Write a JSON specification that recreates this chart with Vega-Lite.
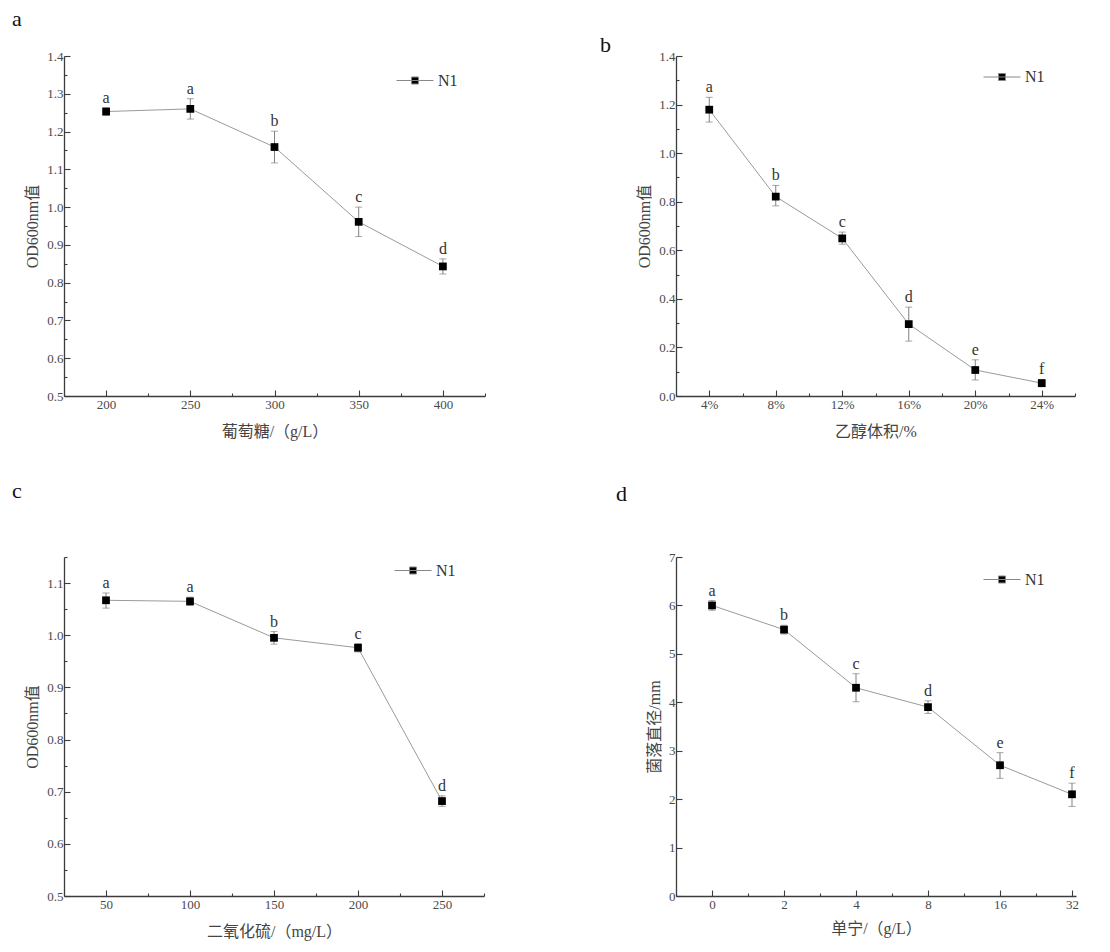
{
  "$schema": "https://vega.github.io/schema/vega-lite/v6.json",
  "padding": {"left": 12, "top": 8, "right": 0, "bottom": 6},
  "background": "white",
  "datasets": {
    "a": [
      {"glucose": 200, "mean": 1.253, "lo": 1.243, "hi": 1.263, "letter": "a", "series": "N1"},
      {"glucose": 250, "mean": 1.260, "lo": 1.233, "hi": 1.287, "letter": "a", "series": "N1"},
      {"glucose": 300, "mean": 1.159, "lo": 1.117, "hi": 1.201, "letter": "b", "series": "N1"},
      {"glucose": 350, "mean": 0.961, "lo": 0.922, "hi": 1.000, "letter": "c", "series": "N1"},
      {"glucose": 400, "mean": 0.843, "lo": 0.823, "hi": 0.863, "letter": "d", "series": "N1"}
    ],
    "b": [
      {"ethanol": 4, "mean": 1.179, "lo": 1.128, "hi": 1.230, "letter": "a", "series": "N1"},
      {"ethanol": 8, "mean": 0.821, "lo": 0.783, "hi": 0.867, "letter": "b", "series": "N1"},
      {"ethanol": 12, "mean": 0.649, "lo": 0.625, "hi": 0.675, "letter": "c", "series": "N1"},
      {"ethanol": 16, "mean": 0.296, "lo": 0.226, "hi": 0.366, "letter": "d", "series": "N1"},
      {"ethanol": 20, "mean": 0.107, "lo": 0.066, "hi": 0.149, "letter": "e", "series": "N1"},
      {"ethanol": 24, "mean": 0.053, "lo": 0.038, "hi": 0.068, "letter": "f", "series": "N1"}
    ],
    "c": [
      {"so2": 50, "mean": 1.067, "lo": 1.052, "hi": 1.081, "letter": "a", "series": "N1"},
      {"so2": 100, "mean": 1.065, "lo": 1.057, "hi": 1.073, "letter": "a", "series": "N1"},
      {"so2": 150, "mean": 0.995, "lo": 0.983, "hi": 1.007, "letter": "b", "series": "N1"},
      {"so2": 200, "mean": 0.976, "lo": 0.968, "hi": 0.984, "letter": "c", "series": "N1"},
      {"so2": 250, "mean": 0.682, "lo": 0.672, "hi": 0.692, "letter": "d", "series": "N1"}
    ],
    "d": [
      {"tannin": "0", "mean": 6.0, "lo": 5.9, "hi": 6.1, "letter": "a", "series": "N1"},
      {"tannin": "2", "mean": 5.5, "lo": 5.41, "hi": 5.59, "letter": "b", "series": "N1"},
      {"tannin": "4", "mean": 4.3, "lo": 4.01, "hi": 4.59, "letter": "c", "series": "N1"},
      {"tannin": "8", "mean": 3.9, "lo": 3.77, "hi": 4.03, "letter": "d", "series": "N1"},
      {"tannin": "16", "mean": 2.7, "lo": 2.43, "hi": 2.96, "letter": "e", "series": "N1"},
      {"tannin": "32", "mean": 2.1, "lo": 1.85, "hi": 2.33, "letter": "f", "series": "N1"}
    ]
  },
  "columns": 2,
  "bounds": "flush",
  "spacing": {"row": 161, "column": 191},
  "resolve": {"scale": {"color": "independent"}},
  "concat": [
    {
      "title": {"text": "a", "dx": -52, "offset": 19},
      "width": 421, "height": 340,
      "data": {"name": "a"},
      "resolve": {"axis": {"y": "independent"}},
      "encoding": {
        "x": {"field": "glucose", "type": "quantitative",
          "scale": {"domain": [175, 425], "nice": false, "zero": false},
          "axis": {"title": "葡萄糖/（g/L）", "values": [175,200,225,250,275,300,325,350,375,400,425],
            "labelExpr": "datum.value % 50 === 0 ? datum.label : ''",
            "tickSize": {"condition": {"test": "datum.value % 50 === 0", "value": -6}, "value": -3},
            "labelPadding": 8, "titlePadding": 9}}
      },
      "layer": [
        {"mark": {"type": "line", "color": "#9a9a9a", "strokeWidth": 1},
         "encoding": {"y": {"field": "mean", "type": "quantitative",
           "scale": {"domain": [0.5, 1.4], "nice": false, "zero": false},
           "axis": {"title": "OD600nm值", "values": [0.5,0.55,0.6,0.65,0.7,0.75,0.8,0.85,0.9,0.95,1.0,1.05,1.1,1.15,1.2,1.25,1.3,1.35,1.4],
             "format": ".1f",
             "labelExpr": "abs(datum.value*10 - round(datum.value*10)) < 0.001 ? datum.label : ''",
             "tickSize": {"condition": {"test": "abs(datum.value*10 - round(datum.value*10)) < 0.001", "value": -6}, "value": -3},
             "labelPadding": 7, "titlePadding": 6}}}},
        {"mark": {"type": "errorbar", "color": "#808080", "ticks": {"size": 7, "color": "#808080"}},
         "encoding": {"y": {"field": "lo", "type": "quantitative", "axis": null}, "y2": {"field": "hi"}}},
        {"mark": {"type": "point", "shape": "square", "filled": true, "size": 60, "opacity": 1},
         "encoding": {"y": {"field": "mean", "type": "quantitative", "axis": null},
           "color": {"field": "series", "type": "nominal", "scale": {"range": ["#000000"]},
             "legend": {"title": null, "orient": "none", "legendX": 332, "legendY": 5.5,
               "symbolType": "M-1,0H1M-0.19,-0.19H0.19V0.19H-0.19Z", "symbolSize": 1369,
               "symbolStrokeColor": "#888888", "symbolStrokeWidth": 1, "symbolFillColor": "#000000",
               "labelFontSize": 16, "labelOffset": 4, "labelColor": "#333"}}}},
        {"mark": {"type": "text", "dy": -5, "baseline": "alphabetic", "fontSize": 16, "color": "#333"},
         "encoding": {"y": {"field": "hi", "type": "quantitative", "axis": null}, "text": {"field": "letter"}}}
      ]
    },
    {
      "title": {"text": "b", "dx": -76, "offset": -7},
      "width": 399, "height": 340,
      "data": {"name": "b"},
      "resolve": {"axis": {"y": "independent"}},
      "encoding": {
        "x": {"field": "ethanol", "type": "quantitative",
          "scale": {"domain": [2, 26], "nice": false, "zero": false},
          "axis": {"title": "乙醇体积/%", "values": [2,4,6,8,10,12,14,16,18,20,22,24,26],
            "labelExpr": "datum.value % 4 === 0 ? datum.value + '%' : ''",
            "tickSize": {"condition": {"test": "datum.value % 4 === 0", "value": -6}, "value": -3},
            "labelPadding": 8, "titlePadding": 9}}
      },
      "layer": [
        {"mark": {"type": "line", "color": "#9a9a9a", "strokeWidth": 1},
         "encoding": {"y": {"field": "mean", "type": "quantitative",
           "scale": {"domain": [0, 1.4], "nice": false, "zero": false},
           "axis": {"title": "OD600nm值", "values": [0,0.1,0.2,0.3,0.4,0.5,0.6,0.7,0.8,0.9,1.0,1.1,1.2,1.3,1.4],
             "format": ".1f",
             "labelExpr": "abs(datum.value*5 - round(datum.value*5)) < 0.001 ? datum.label : ''",
             "tickSize": {"condition": {"test": "abs(datum.value*5 - round(datum.value*5)) < 0.001", "value": -6}, "value": -3},
             "labelPadding": 7, "titlePadding": 6}}}},
        {"mark": {"type": "errorbar", "color": "#808080", "ticks": {"size": 7, "color": "#808080"}},
         "encoding": {"y": {"field": "lo", "type": "quantitative", "axis": null}, "y2": {"field": "hi"}}},
        {"mark": {"type": "point", "shape": "square", "filled": true, "size": 60, "opacity": 1},
         "encoding": {"y": {"field": "mean", "type": "quantitative", "axis": null},
           "color": {"field": "series", "type": "nominal", "scale": {"range": ["#000000"]},
             "legend": {"title": null, "orient": "none", "legendX": 307, "legendY": 2,
               "symbolType": "M-1,0H1M-0.19,-0.19H0.19V0.19H-0.19Z", "symbolSize": 1369,
               "symbolStrokeColor": "#888888", "symbolStrokeWidth": 1, "symbolFillColor": "#000000",
               "labelFontSize": 16, "labelOffset": 4, "labelColor": "#333"}}}},
        {"mark": {"type": "text", "dy": -5, "baseline": "alphabetic", "fontSize": 16, "color": "#333"},
         "encoding": {"y": {"field": "hi", "type": "quantitative", "axis": null}, "text": {"field": "letter"}}}
      ]
    },
    {
      "title": {"text": "c", "dx": -52, "offset": 48},
      "width": 420, "height": 339,
      "data": {"name": "c"},
      "resolve": {"axis": {"y": "independent"}},
      "encoding": {
        "x": {"field": "so2", "type": "quantitative",
          "scale": {"domain": [25, 275], "nice": false, "zero": false},
          "axis": {"title": "二氧化硫/（mg/L）", "values": [25,50,75,100,125,150,175,200,225,250,275],
            "labelExpr": "datum.value % 50 === 0 ? datum.label : ''",
            "tickSize": {"condition": {"test": "datum.value % 50 === 0", "value": -6}, "value": -3},
            "labelPadding": 8, "titlePadding": 9}}
      },
      "layer": [
        {"mark": {"type": "line", "color": "#9a9a9a", "strokeWidth": 1},
         "encoding": {"y": {"field": "mean", "type": "quantitative",
           "scale": {"domain": [0.5, 1.15], "nice": false, "zero": false},
           "axis": {"title": "OD600nm值", "values": [0.5,0.55,0.6,0.65,0.7,0.75,0.8,0.85,0.9,0.95,1.0,1.05,1.1,1.15],
             "format": ".1f",
             "labelExpr": "abs(datum.value*10 - round(datum.value*10)) < 0.001 ? datum.label : ''",
             "tickSize": {"condition": {"test": "abs(datum.value*10 - round(datum.value*10)) < 0.001", "value": -6}, "value": -3},
             "labelPadding": 7, "titlePadding": 6}}}},
        {"mark": {"type": "errorbar", "color": "#808080", "ticks": {"size": 7, "color": "#808080"}},
         "encoding": {"y": {"field": "lo", "type": "quantitative", "axis": null}, "y2": {"field": "hi"}}},
        {"mark": {"type": "point", "shape": "square", "filled": true, "size": 60, "opacity": 1},
         "encoding": {"y": {"field": "mean", "type": "quantitative", "axis": null},
           "color": {"field": "series", "type": "nominal", "scale": {"range": ["#000000"]},
             "legend": {"title": null, "orient": "none", "legendX": 330, "legendY": -5.5,
               "symbolType": "M-1,0H1M-0.19,-0.19H0.19V0.19H-0.19Z", "symbolSize": 1369,
               "symbolStrokeColor": "#888888", "symbolStrokeWidth": 1, "symbolFillColor": "#000000",
               "labelFontSize": 16, "labelOffset": 4, "labelColor": "#333"}}}},
        {"mark": {"type": "text", "dy": -5, "baseline": "alphabetic", "fontSize": 16, "color": "#333"},
         "encoding": {"y": {"field": "hi", "type": "quantitative", "axis": null}, "text": {"field": "letter"}}}
      ]
    },
    {
      "title": {"text": "d", "dx": -60, "offset": 45},
      "width": 400, "height": 339,
      "data": {"name": "d"},
      "resolve": {"axis": {"x": "independent", "y": "independent"}},
      "layer": [
        {"mark": {"type": "line", "color": "#9a9a9a", "strokeWidth": 1},
         "encoding": {
           "x": {"field": "tannin", "type": "ordinal", "sort": ["0","2","4","8","16","32"],
             "scale": {"type": "point", "padding": 0.278, "align": 0.9},
             "axis": {"title": "单宁/（g/L）", "labelAngle": 0, "tickSize": -6, "labelPadding": 8, "titlePadding": 9}},
           "y": {"field": "mean", "type": "quantitative",
           "scale": {"domain": [0, 7], "nice": false, "zero": false},
           "axis": {"title": "菌落直径/mm", "values": [0,0.5,1,1.5,2,2.5,3,3.5,4,4.5,5,5.5,6,6.5,7],
             "format": "d",
             "labelExpr": "datum.value % 1 === 0 ? datum.label : ''",
             "tickSize": {"condition": {"test": "datum.value % 1 === 0", "value": -6}, "value": -3},
             "labelPadding": 7, "titlePadding": 6}}}},
        {"mark": {"type": "errorbar", "color": "#808080", "ticks": {"size": 7, "color": "#808080"}},
         "encoding": {
           "x": {"field": "tannin", "type": "ordinal", "sort": ["0","2","4","8","16","32"], "axis": null},
           "y": {"field": "lo", "type": "quantitative", "axis": null}, "y2": {"field": "hi"}}},
        {"mark": {"type": "point", "shape": "square", "filled": true, "size": 60, "opacity": 1},
         "encoding": {
           "x": {"field": "tannin", "type": "ordinal", "sort": ["0","2","4","8","16","32"], "axis": null},
           "y": {"field": "mean", "type": "quantitative", "axis": null},
           "color": {"field": "series", "type": "nominal", "scale": {"range": ["#000000"]},
             "legend": {"title": null, "orient": "none", "legendX": 307, "legendY": 3.5,
               "symbolType": "M-1,0H1M-0.19,-0.19H0.19V0.19H-0.19Z", "symbolSize": 1369,
               "symbolStrokeColor": "#888888", "symbolStrokeWidth": 1, "symbolFillColor": "#000000",
               "labelFontSize": 16, "labelOffset": 4, "labelColor": "#333"}}}},
        {"mark": {"type": "text", "dy": -5, "baseline": "alphabetic", "fontSize": 16, "color": "#333"},
         "encoding": {
           "x": {"field": "tannin", "type": "ordinal", "sort": ["0","2","4","8","16","32"],
             "axis": {"orient": "bottom", "title": null, "labels": false, "domain": false, "tickSize": -3, "tickOffset": -36}},
           "y": {"field": "hi", "type": "quantitative", "axis": null}, "text": {"field": "letter"}}}
      ]
    }
  ],
  "config": {
    "font": "'Liberation Serif', 'Noto Sans CJK SC'",
    "view": {"stroke": null},
    "axis": {"grid": false, "domainColor": "#3c3c3c", "domainWidth": 1.3, "tickColor": "#3c3c3c", "tickWidth": 1.1,
      "labelFont": "'Liberation Serif', 'Noto Sans CJK SC'", "labelFontSize": 13, "labelColor": "#4a4a4a",
      "titleFont": "'Liberation Serif', 'Noto Sans CJK SC'", "titleFontSize": 16, "titleFontWeight": "normal", "titleColor": "#444444",
      "labelFlush": false, "labelOverlap": false},
    "legend": {"labelFont": "'Liberation Serif', 'Noto Sans CJK SC'"},
    "title": {"font": "'Liberation Serif', 'Noto Sans CJK SC'", "fontSize": 22, "fontWeight": "normal", "anchor": "start", "frame": "group", "baseline": "alphabetic", "color": "#111111"},
    "text": {"font": "'Liberation Serif', 'Noto Sans CJK SC'"}
  }
}
